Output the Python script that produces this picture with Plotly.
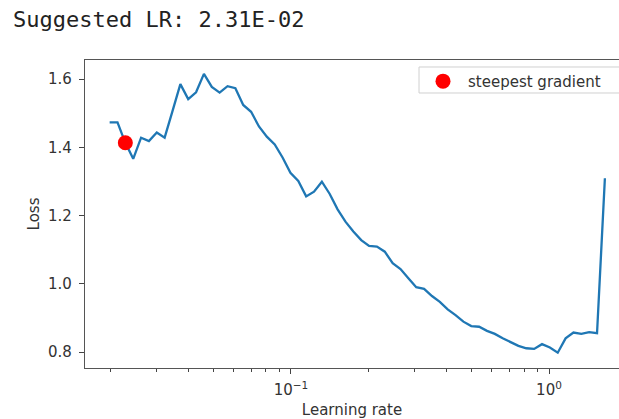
import plotly.graph_objects as go

# Learning rates (x) and losses (y)
learning_rates = [
    0.01982, 0.02126, 0.02280, 0.02446, 0.02624, 0.02814, 0.03019, 0.03238,
    0.03473, 0.03726, 0.03996, 0.04286, 0.04598, 0.04932, 0.05290, 0.05675,
    0.06087, 0.06529, 0.07004, 0.07513, 0.08059, 0.08648, 0.09276, 0.09950,
    0.10673, 0.11449, 0.12281, 0.13173, 0.14130, 0.15157, 0.16259, 0.17445,
    0.18713, 0.20073, 0.21532, 0.23097, 0.24775, 0.26575, 0.28506, 0.30577,
    0.32798, 0.35185, 0.37742, 0.40485, 0.43426, 0.46582, 0.49967, 0.53598,
    0.57493, 0.61670, 0.66152, 0.70967, 0.76124, 0.81655, 0.87588, 0.93953,
    1.00780, 1.08103, 1.15958, 1.24384, 1.33422, 1.43117, 1.53516, 1.64671,
]
losses = [
    1.473, 1.473, 1.413, 1.366, 1.428, 1.418, 1.443, 1.428,
    1.506, 1.585, 1.541, 1.561, 1.615, 1.577, 1.560, 1.579,
    1.573, 1.524, 1.504, 1.461, 1.431, 1.408, 1.370, 1.325,
    1.301, 1.256, 1.270, 1.299, 1.263, 1.218, 1.182, 1.153,
    1.128, 1.111, 1.109, 1.094, 1.060, 1.043, 1.016, 0.990,
    0.985, 0.964, 0.947, 0.925, 0.908, 0.889, 0.876, 0.874,
    0.862, 0.853, 0.840, 0.829, 0.818, 0.811, 0.809, 0.823,
    0.813, 0.798, 0.840, 0.857, 0.853, 0.858, 0.855, 1.309,
]
suggested_index = 2
suggested_text = "Suggested LR: 2.31E-02"
legend_name = "steepest gradient"

y_tick_vals = [0.8, 1.0, 1.2, 1.4, 1.6]
y_tick_text = ["0.8", "1.0", "1.2", "1.4", "1.6"]
x_tick_vals = [0.1, 1.0]
x_tick_text = ["10<sup>\u22121</sup>", "10<sup>0</sup>"]
x_minor_vals = [0.02, 0.03, 0.04, 0.05, 0.06, 0.07, 0.08, 0.09,
                0.2, 0.3, 0.4, 0.5, 0.6, 0.7, 0.8, 0.9]

fig = go.Figure()
fig.add_trace(go.Scatter(
    x=learning_rates, y=losses, mode="lines",
    line=dict(color="#1f77b4", width=2.3), showlegend=False, hoverinfo="skip",
))
fig.add_trace(go.Scatter(
    x=[learning_rates[suggested_index]], y=[losses[suggested_index]],
    mode="markers", name=legend_name,
    marker=dict(color="red", size=15, line=dict(width=0)),
    hoverinfo="skip",
))

axis_font = dict(family="DejaVu Sans", size=15, color="#333")
fig.update_layout(
    width=619, height=419,
    margin=dict(l=85, r=0, t=60, b=51, autoexpand=False),
    paper_bgcolor="white", plot_bgcolor="white",
    font=axis_font,
    showlegend=True,
    hovermode=False,
    legend=dict(
        x=0.6236, y=0.984, xanchor="left", yanchor="top",
        bgcolor="rgba(0,0,0,0)", borderwidth=0,
        font=dict(family="DejaVu Sans", size=15, color="#333"),
        itemwidth=40,
    ),
    # legend frame (extends past the right edge, as in the reference)
    shapes=[dict(
        type="rect", xref="paper", yref="paper",
        x0=0.6255, x1=1.1, y0=0.8929, y1=0.9773,
        line=dict(color="#d0d0d0", width=1), fillcolor="white", layer="above",
    )],
    xaxis=dict(
        type="log", range=[-1.7984, 0.2713], automargin=False,
        tickvals=x_tick_vals, ticktext=x_tick_text,
        ticks="outside", ticklen=5, tickcolor="#444", ticklabelstandoff=3,
        showgrid=False, zeroline=False,
        showline=True, linecolor="#555", linewidth=1.3, mirror=True,
        minor=dict(tickvals=x_minor_vals, ticks="outside", ticklen=3,
                   tickcolor="#444", showgrid=False),
        title=dict(text="Learning rate", font=axis_font),
    ),
    yaxis=dict(
        range=[0.7531, 1.6557], automargin=False,
        tickvals=y_tick_vals, ticktext=y_tick_text,
        ticks="outside", ticklen=5, tickcolor="#444", ticklabelstandoff=4,
        showgrid=False, zeroline=False,
        showline=True, linecolor="#555", linewidth=1.3, mirror=False,
        title=dict(text="Loss", font=axis_font, standoff=4),
    ),
    annotations=[dict(
        text=suggested_text, xref="paper", yref="paper",
        x=-0.1386, y=1.1299, xanchor="left", yanchor="middle",
        showarrow=False,
        font=dict(family="DejaVu Sans Mono", size=22, color="#222"),
    )],
)

fig.write_html(
    "out.html",
    post_script="document.body.style.margin='0';",
    config={"displayModeBar": False},
)
